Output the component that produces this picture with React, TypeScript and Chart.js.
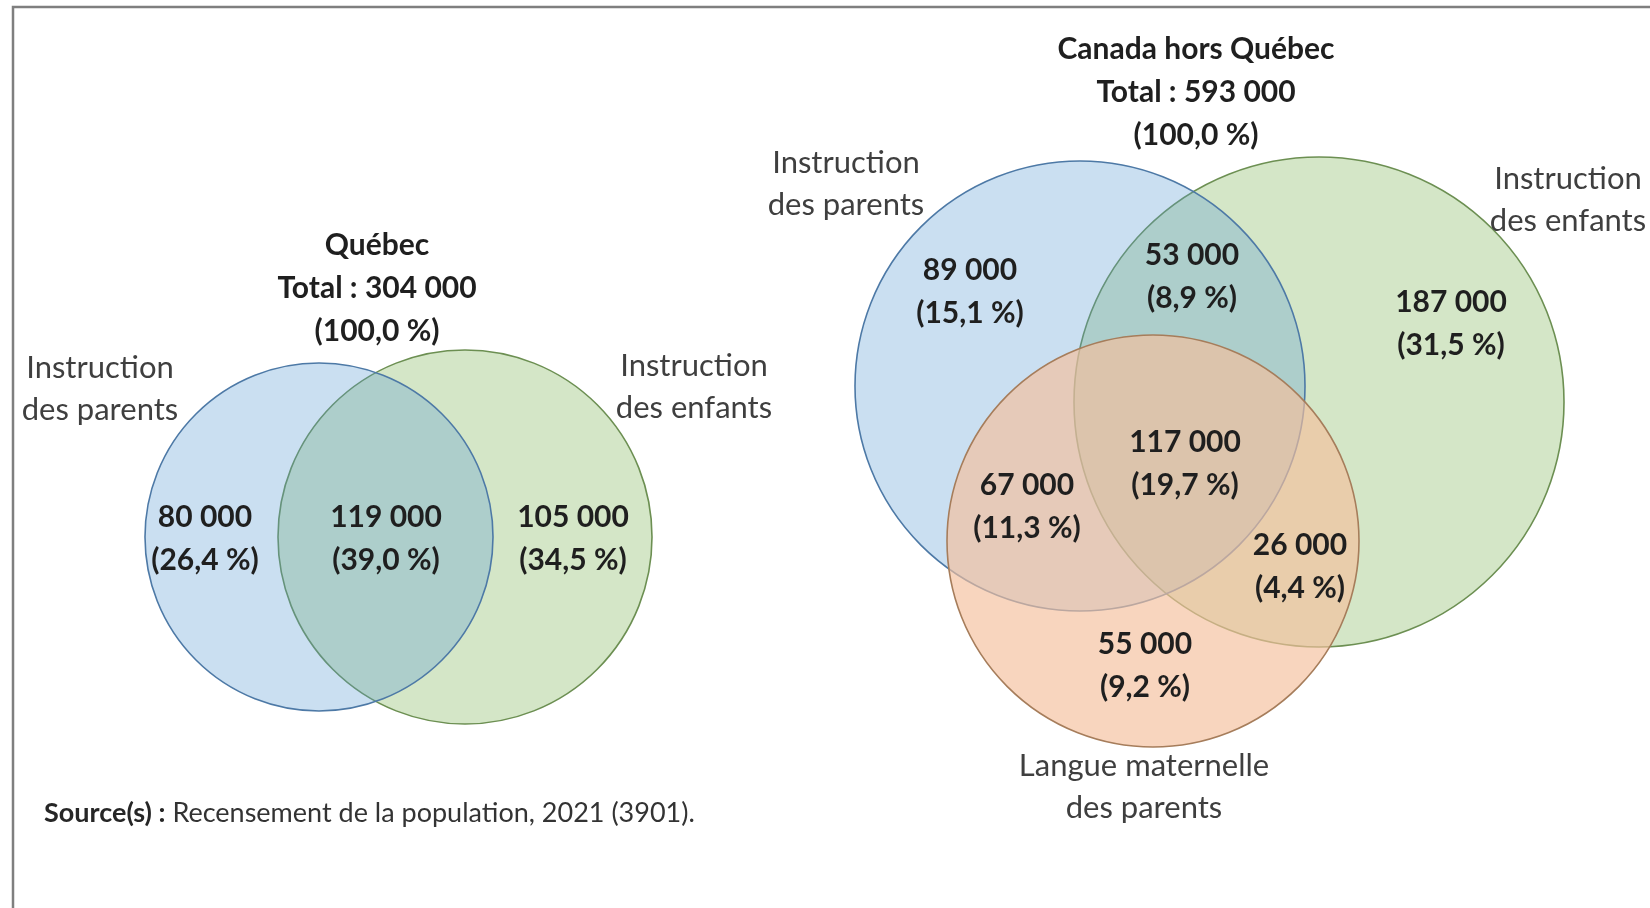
import React, { useEffect, useRef } from "react";
import { Chart, registerables } from "chart.js";

Chart.register(...registerables);

// ---------- Data ----------
const setNames = ["Instruction des parents", "Instruction des enfants", "Langue maternelle des parents"];

const quebecTitle = "Québec";
const quebecTotal = 304000;
const quebecTotalPct = 100.0;
const quebecRegions = ["Parents seulement", "Parents et enfants", "Enfants seulement"];
const quebecCounts = [80000, 119000, 105000];
const quebecPercents = [26.4, 39.0, 34.5];

const canadaTitle = "Canada hors Québec";
const canadaTotal = 593000;
const canadaTotalPct = 100.0;
const canadaRegions = [
  "Parents seulement",
  "Parents et enfants",
  "Enfants seulement",
  "Parents et langue maternelle",
  "Les trois",
  "Enfants et langue maternelle",
  "Langue maternelle seulement",
];
const canadaCounts = [89000, 53000, 187000, 67000, 117000, 26000, 55000];
const canadaPercents = [15.1, 8.9, 31.5, 11.3, 19.7, 4.4, 9.2];

const sourceBold = "Source(s) :";
const sourceText = " Recensement de la population, 2021 (3901).";

// ---------- Layout (positions in canvas units) ----------
const W = 1650;
const H = 908;
// circles per set: [quebec, canada]
const parentsCircleX = [319, 1080];
const parentsCircleY = [537, 386];
const parentsCircleR = [174, 225];
const enfantsCircleX = [465, 1319];
const enfantsCircleY = [537, 402];
const enfantsCircleR = [187, 245];
const langueCircleX = [1153];
const langueCircleY = [541];
const langueCircleR = [206];

const quebecTitleXY = [377, 245];
const canadaTitleXY = [1196, 49];
const titleLineGap = 43;
const labelLineGap = 42;
const valueLineGap = 43;

const quebecRegionX = [205, 386, 573];
const quebecRegionY = [517, 517, 517];
const canadaRegionX = [970, 1192, 1451, 1027, 1185, 1300, 1145];
const canadaRegionY = [270, 255, 302, 485, 442, 545, 644];

const setLabelPos = [
  { x: 100, y: 368, lines: ["Instruction", "des parents"] },
  { x: 694, y: 366, lines: ["Instruction", "des enfants"] },
  { x: 846, y: 163, lines: ["Instruction", "des parents"] },
  { x: 1568, y: 179, lines: ["Instruction", "des enfants"] },
  { x: 1144, y: 766, lines: ["Langue maternelle", "des parents"] },
];

const FONT = "Lato, 'Open Sans', sans-serif";
const BOLD_SIZE = 30;
const REG_SIZE = 31;
const SOURCE_SIZE = 27;
const TEXT_BOLD = "#1f1f1f";
const TEXT_REG = "#3f3f3f";

const fmtCount = (n: number) => String(n).replace(/\B(?=(\d{3})+(?!\d))/g, " ");
const fmtPct = (p: number) => "(" + p.toFixed(1).replace(".", ",") + " %)";

const pts = (xs: number[], ys: number[], rs: number[]) =>
  xs.map((x, i) => ({ x, y: ys[i], r: rs[i] }));

const textPlugin = {
  id: "vennText",
  beforeDraw(chart: any) {
    const { ctx } = chart;
    ctx.save();
    ctx.fillStyle = "#ffffff";
    ctx.fillRect(0, 0, chart.width, chart.height);
    const sx = chart.scales.x;
    const sy = chart.scales.y;
    ctx.strokeStyle = "#7f7f7f";
    ctx.lineWidth = 2.5;
    ctx.beginPath();
    ctx.moveTo(sx.getPixelForValue(13), sy.getPixelForValue(H + 5));
    ctx.lineTo(sx.getPixelForValue(13), sy.getPixelForValue(7));
    ctx.lineTo(sx.getPixelForValue(W + 5), sy.getPixelForValue(7));
    ctx.stroke();
    ctx.restore();
  },
  afterDatasetsDraw(chart: any) {
    const { ctx } = chart;
    const sx = chart.scales.x;
    const sy = chart.scales.y;
    const px = (v: number) => sx.getPixelForValue(v);
    const py = (v: number) => sy.getPixelForValue(v);
    ctx.save();
    ctx.textAlign = "center";
    ctx.textBaseline = "middle";

    const bold = (t: string, x: number, y: number) => {
      ctx.font = `bold ${BOLD_SIZE}px ${FONT}`;
      ctx.fillStyle = TEXT_BOLD;
      ctx.fillText(t, px(x), py(y));
    };
    const reg = (t: string, x: number, y: number) => {
      ctx.font = `${REG_SIZE}px ${FONT}`;
      ctx.fillStyle = TEXT_REG;
      ctx.fillText(t, px(x), py(y));
    };

    // titles
    bold(quebecTitle, quebecTitleXY[0], quebecTitleXY[1]);
    bold("Total : " + fmtCount(quebecTotal), quebecTitleXY[0], quebecTitleXY[1] + titleLineGap);
    bold(fmtPct(quebecTotalPct), quebecTitleXY[0], quebecTitleXY[1] + 2 * titleLineGap);
    bold(canadaTitle, canadaTitleXY[0], canadaTitleXY[1]);
    bold("Total : " + fmtCount(canadaTotal), canadaTitleXY[0], canadaTitleXY[1] + titleLineGap);
    bold(fmtPct(canadaTotalPct), canadaTitleXY[0], canadaTitleXY[1] + 2 * titleLineGap);

    // set labels
    setLabelPos.forEach((l) => {
      l.lines.forEach((line, i) => reg(line, l.x, l.y + i * labelLineGap));
    });

    // region values
    quebecCounts.forEach((c, i) => {
      bold(fmtCount(c), quebecRegionX[i], quebecRegionY[i]);
      bold(fmtPct(quebecPercents[i]), quebecRegionX[i], quebecRegionY[i] + valueLineGap);
    });
    canadaCounts.forEach((c, i) => {
      bold(fmtCount(c), canadaRegionX[i], canadaRegionY[i]);
      bold(fmtPct(canadaPercents[i]), canadaRegionX[i], canadaRegionY[i] + valueLineGap);
    });

    // source
    ctx.textAlign = "left";
    ctx.font = `bold ${SOURCE_SIZE}px ${FONT}`;
    ctx.fillStyle = "#262626";
    const sxp = px(44);
    const syp = py(813);
    ctx.fillText(sourceBold, sxp, syp);
    const bw = ctx.measureText(sourceBold).width;
    ctx.font = `${SOURCE_SIZE}px ${FONT}`;
    ctx.fillStyle = "#333333";
    ctx.fillText(sourceText, sxp + bw, syp);
    ctx.restore();
  },
};

export default function App() {
  const canvasRef = useRef<HTMLCanvasElement | null>(null);

  useEffect(() => {
    document.body.style.margin = "0";
    const canvas = canvasRef.current;
    if (!canvas) return;
    const radiusFn = (c: any) => {
      const raw = c.raw as any;
      if (!raw) return 0;
      const sx = c.chart.scales.x;
      return Math.abs(sx.getPixelForValue(raw.r) - sx.getPixelForValue(0));
    };
    const chart = new Chart(canvas, {
      type: "scatter",
      data: {
        datasets: [
          {
            label: setNames[0],
            data: pts(parentsCircleX, parentsCircleY, parentsCircleR),
            backgroundColor: "rgba(91,155,213,0.32)",
            borderColor: "#4d79a6",
            borderWidth: 1.6,
            order: 1,
          },
          {
            label: setNames[1],
            data: pts(enfantsCircleX, enfantsCircleY, enfantsCircleR),
            backgroundColor: "rgba(112,173,71,0.30)",
            borderColor: "#6c8f52",
            borderWidth: 1.6,
            order: 2,
          },
          {
            label: setNames[2],
            data: pts(langueCircleX, langueCircleY, langueCircleR),
            backgroundColor: "rgba(245,191,157,0.66)",
            borderColor: "#a67d5b",
            borderWidth: 1.6,
            order: 0,
          },
        ] as any,
      },
      options: {
        animation: false,
        responsive: false,
        devicePixelRatio: 1,
        layout: { padding: 0 },
        elements: {
          point: {
            radius: radiusFn as any,
            hoverRadius: radiusFn as any,
            pointStyle: "circle",
          },
        },
        scales: {
          x: { type: "linear", min: 0, max: W, display: false },
          y: { type: "linear", min: 0, max: H, reverse: true, display: false },
        },
        plugins: {
          legend: { display: false },
          tooltip: { enabled: false },
          title: { display: false },
        },
        events: [],
      },
      plugins: [textPlugin],
    });
    return () => chart.destroy();
  }, []);

  return (
    <div style={{ width: W, height: H, margin: 0, padding: 0 }}>
      <canvas ref={canvasRef} width={W} height={H} style={{ display: "block" }} />
    </div>
  );
}
